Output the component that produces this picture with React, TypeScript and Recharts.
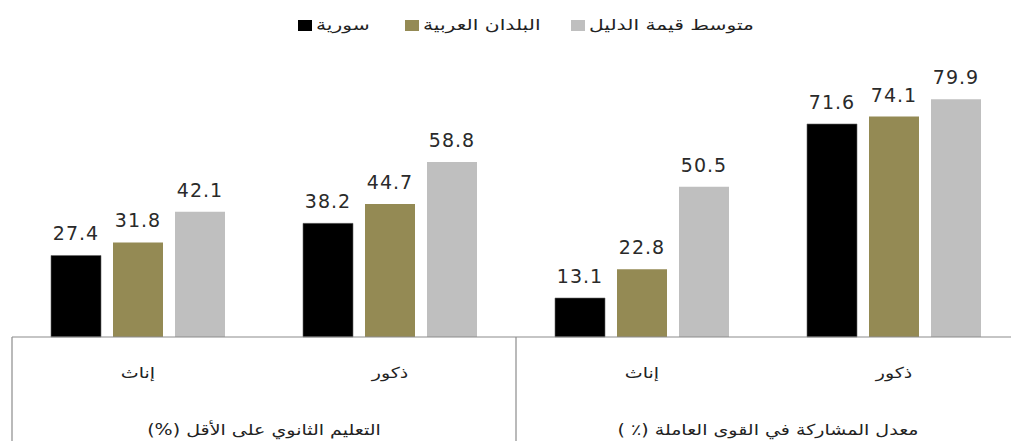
import React from 'react';
import { BarChart, Bar, XAxis, YAxis, LabelList } from 'recharts';

const categories = ['إناث', 'ذكور', 'إناث', 'ذكور'];
const groupLabels = ['التعليم الثانوي على الأقل (%)', 'معدل المشاركة في القوى العاملة (٪ )'];
const syriaValues = [27.4, 38.2, 13.1, 71.6];
const arabValues = [31.8, 44.7, 22.8, 74.1];
const indexValues = [42.1, 58.8, 50.5, 79.9];
const seriesNames = ['سورية', 'البلدان العربية', 'متوسط قيمة الدليل'];
const seriesKeys = ['syria', 'arab', 'avg'];
const seriesColors = ['#000000', '#948A54', '#BFBFBF'];

const data = categories.map((cat, i) => ({
  cat,
  syria: syriaValues[i],
  arab: arabValues[i],
  avg: indexValues[i],
}));

const ARABIC_FONT = '"DejaVu Sans", sans-serif';
const LINE = '#8c8c8c';
const STRETCH = 1.27;

const StretchText = ({ x, y, children, size }: any) => (
  <text
    transform={`translate(${x},${y}) scale(${STRETCH},1)`}
    x={0}
    y={0}
    textAnchor="middle"
    direction="rtl"
    fontFamily={ARABIC_FONT}
    fontSize={size}
    fill="#222"
  >
    {children}
  </text>
);

const CategoryTick = (props: any) => {
  const { x, y, payload, index } = props;
  const half = payload && typeof payload.offset === 'number' && payload.offset > 0 ? payload.offset : 126;
  const items: React.ReactNode[] = [];
  items.push(
    <StretchText key="t" x={x} y={y + 41} size={15}>
      {payload.value}
    </StretchText>
  );
  if (index === 0 || index === 2) {
    items.push(<line key="l" x1={x - half} x2={x - half} y1={y} y2={441} stroke={LINE} strokeWidth={1.2} />);
  }
  if (index === 3) {
    items.push(<line key="r" x1={x + half} x2={x + half} y1={y} y2={441} stroke={LINE} strokeWidth={1.2} />);
  }
  if (index === 1 || index === 3) {
    items.push(
      <StretchText key="g" x={x - half} y={y + 98} size={15}>
        {groupLabels[(index - 1) / 2]}
      </StretchText>
    );
  }
  return <g>{items}</g>;
};

const legendIconLeft = [298, 405, 571];

const LegendOverlay = () => (
  <>
    {seriesNames.map((name, i) => (
      <div
        key={name}
        style={{
          position: 'absolute',
          top: 14,
          left: legendIconLeft[i],
          height: 22,
          display: 'flex',
          alignItems: 'center',
          fontFamily: ARABIC_FONT,
          fontSize: 15,
          color: '#222',
          whiteSpace: 'nowrap',
        }}
      >
        <span style={{ display: 'inline-block', width: 14, height: 11, background: seriesColors[i] }} />
        <span
          dir="rtl"
          style={{ display: 'inline-block', marginLeft: 4, transform: 'scaleX(1.35)', transformOrigin: 'left center' }}
        >
          {name}
        </span>
      </div>
    ))}
  </>
);

export default function App() {
  return (
    <div style={{ position: 'absolute', left: 0, top: 0, width: 1011, height: 441, overflow: 'hidden', background: '#fff' }}>
      <BarChart
        width={1020}
        height={441}
        data={data}
        margin={{ top: 39.5, right: 0, left: 12, bottom: 0 }}
        barCategoryGap={39}
        barGap={12}
      >
        <XAxis
          dataKey="cat"
          height={104}
          interval={0}
          tickSize={0}
          tickMargin={0}
          tickLine={false}
          axisLine={{ stroke: LINE, strokeWidth: 1.2 }}
          tick={<CategoryTick />}
        />
        <YAxis hide domain={[0, 100]} />
        {seriesKeys.map((k, i) => (
          <Bar key={k} dataKey={k} name={seriesNames[i]} fill={seriesColors[i]} stroke={i === 0 ? '#666' : undefined} strokeWidth={0.6} isAnimationActive={false}>
            <LabelList
              dataKey={k}
              position="top"
              offset={15}
              fill="#2a2a2a"
              fontFamily='"DejaVu Sans", sans-serif'
              fontSize={19}
              letterSpacing={1}
              formatter={(v: any) => Number(v).toFixed(1)}
            />
          </Bar>
        ))}
      </BarChart>
      <LegendOverlay />
    </div>
  );
}
